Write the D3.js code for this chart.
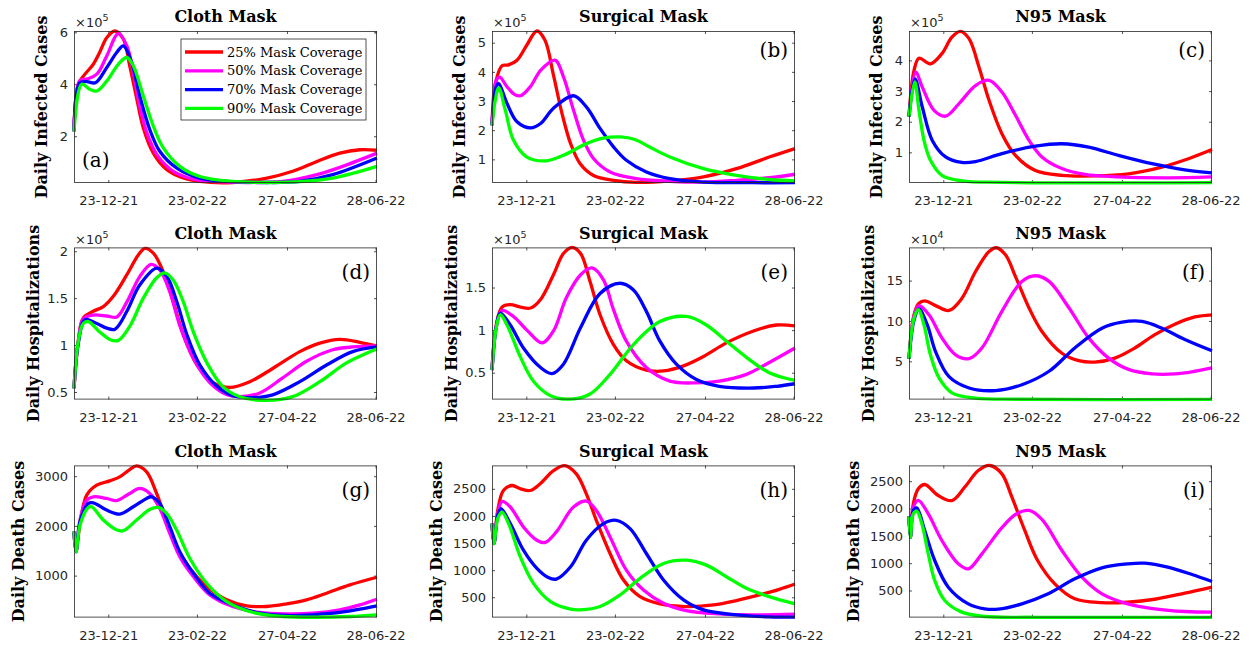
<!DOCTYPE html>
<html><head><meta charset="utf-8">
<script src="https://cdn.jsdelivr.net/npm/d3@7"></script>
<style>body{margin:0;background:#fff} svg{display:block}</style>
</head><body>
<svg id="chart" width="1256" height="647"></svg>
<script>
// ---------------- DATA ----------------
// x: days since 29-11-2021 ; values in plotted units (see exponent per panel)
const startDateUTC = Date.UTC(2021, 10, 29);
const endDay = 212;
const xTickDates = ["2021-12-23", "2022-02-23", "2022-04-27", "2022-06-28"];
const seriesLabels = ["25% Mask Coverage", "50% Mask Coverage", "70% Mask Coverage", "90% Mask Coverage"];
const seriesColors = ["#ff0000", "#ff00ff", "#0000ff", "#00ff00"];
const maskTitles = ["Cloth Mask", "Surgical Mask", "N95 Mask"];
const measureLabels = ["Daily Infected Cases", "Daily Hospitalizations", "Daily Death Cases"];
const panelLetters = ["(a)", "(b)", "(c)", "(d)", "(e)", "(f)", "(g)", "(h)", "(i)"];

// (a) infected, cloth (x1e5)
const infCloth25 = [[0,2.19],[3,4.0],[7.7,4.39],[13.5,4.77],[18,5.23],[23,5.8],[28.7,6.05],[34.5,5.74],[39,4.71],[44,3.42],[48.5,2.32],[55.5,1.35],[65,0.71],[76.5,0.39],[88,0.26],[111,0.22],[135,0.39],[153,0.65],[170,1.03],[186,1.35],[200,1.48],[212,1.46]];
const infCloth50 = [[0,2.19],[4,4.13],[9,4.2],[16,4.39],[23,5.1],[31,5.95],[37,5.48],[41.5,4.45],[46,3.16],[51,2.13],[58,1.29],[69.5,0.65],[83.5,0.35],[100,0.25],[123,0.22],[146,0.26],[170,0.52],[188,0.84],[212,1.35]];
const infCloth70 = [[0,2.19],[4,4.05],[9,4.1],[15,4.06],[23,4.65],[30,5.23],[34.5,5.48],[40,4.9],[46,3.55],[53,2.26],[60,1.42],[72,0.77],[88,0.39],[111,0.25],[135,0.22],[158,0.26],[181,0.52],[212,1.16]];
const infCloth90 = [[0,2.19],[5.4,4.0],[11,3.81],[16,3.74],[23,4.13],[31,4.77],[37,5.03],[41.5,4.71],[48.5,3.55],[55.5,2.39],[62.5,1.55],[74,0.84],[88,0.45],[111,0.26],[135,0.22],[158,0.25],[181,0.39],[212,0.84]];
// (b) infected, surgical (x1e5)
const infSurg25 = [[0,2.17],[3,3.72],[7,4.21],[11.6,4.24],[17.5,4.4],[24.4,4.92],[31.4,5.4],[37,5.09],[43,3.89],[49,2.57],[55,1.54],[61.7,0.85],[71,0.45],[85,0.28],[101,0.21],[124.5,0.26],[148,0.4],[171,0.68],[194,1.08],[212,1.37]];
const infSurg50 = [[0,2.17],[3,3.72],[5.4,3.82],[10.5,3.49],[16,3.22],[20,3.18],[27,3.5],[34,4.05],[44,4.4],[50,3.83],[57,2.69],[64,1.66],[71,1.03],[82.6,0.57],[101,0.34],[124.5,0.25],[148,0.22],[171,0.28],[194,0.37],[212,0.49]];
const infSurg70 = [[0,2.17],[3,3.49],[4.7,3.6],[10.5,2.92],[17.5,2.29],[27,2.08],[34,2.23],[43,2.75],[57,3.18],[66,2.8],[75.6,2.06],[85,1.43],[94,0.97],[108,0.57],[124.5,0.34],[148,0.22],[183,0.2],[212,0.2]];
const infSurg90 = [[0,2.17],[2.3,3.03],[4.7,3.45],[9.3,2.69],[15,1.66],[24.4,1.08],[38,0.95],[50,1.14],[66,1.54],[78,1.73],[90,1.77],[100,1.68],[110,1.43],[124.5,1.08],[148,0.68],[171,0.45],[194,0.31],[212,0.26]];
// (c) infected, N95 (x1e5)
const infN95_25 = [[0,2.17],[3.5,3.67],[7,4.07],[15,3.89],[23,4.22],[30,4.76],[36,4.95],[42,4.71],[49,3.78],[56,2.7],[65,1.61],[74.5,0.9],[88.4,0.41],[107,0.25],[130,0.23],[153.6,0.3],[177,0.52],[195.5,0.79],[212,1.09]];
const infN95_50 = [[0,2.17],[4.7,3.62],[9.3,3.13],[17.5,2.37],[25.6,2.18],[35,2.59],[46.5,3.18],[56,3.35],[65,2.97],[74.5,2.21],[84,1.39],[93,0.85],[107,0.47],[123,0.28],[146.6,0.2],[181.5,0.17],[212,0.2]];
const infN95_70 = [[0,2.17],[4.2,3.4],[9.3,2.48],[16.3,1.39],[25.6,0.85],[37,0.67],[46.5,0.7],[65,0.96],[88.4,1.2],[107,1.28],[125.7,1.17],[146.6,0.9],[170,0.63],[193,0.43],[212,0.33]];
const infN95_90 = [[0,2.17],[4,3.3],[7,2.37],[10.5,1.39],[15,0.74],[23,0.25],[37,0.07],[65,0.02],[212,0.01]];
// (d) hospitalizations, cloth (x1e5)
const hospCloth25 = [[0,0.54],[3,1.04],[6.5,1.29],[13.5,1.36],[20.5,1.41],[27.5,1.52],[37,1.75],[45,1.96],[49.7,2.03],[55.5,1.98],[62.5,1.78],[69.5,1.46],[76.5,1.11],[86,0.79],[97.4,0.6],[109,0.55],[123,0.61],[139,0.75],[158,0.93],[172,1.02],[186,1.06],[200,1.03],[212,0.99]];
const hospCloth50 = [[0,0.54],[3,1.04],[6.5,1.28],[13.5,1.32],[23,1.31],[30,1.3],[37,1.46],[46,1.73],[54,1.86],[60,1.8],[67,1.57],[74,1.21],[83.5,0.86],[95,0.6],[107,0.47],[116,0.45],[130,0.49],[146,0.65],[163,0.83],[181,0.95],[195,0.98],[212,0.99]];
const hospCloth70 = [[0,0.54],[3,1.02],[7.7,1.27],[16,1.23],[23,1.18],[28.7,1.17],[37,1.36],[46,1.64],[58,1.82],[65,1.73],[72,1.46],[79,1.11],[88,0.79],[100,0.56],[111,0.46],[125,0.44],[139,0.47],[158,0.61],[177,0.79],[195,0.93],[212,0.98]];
const hospCloth90 = [[0,0.54],[3,1.04],[6.5,1.23],[10,1.25],[18,1.14],[25,1.06],[31,1.05],[39,1.2],[48.5,1.5],[58,1.72],[63.6,1.77],[69.5,1.69],[76.5,1.46],[83.5,1.14],[93,0.81],[104,0.56],[116,0.45],[135,0.41],[153,0.45],[172,0.61],[190.7,0.81],[212,0.96]];
// (e) hospitalizations, surgical (x1e5)
const hospSurg25 = [[0,0.53],[3,1.06],[7,1.27],[12.8,1.3],[20,1.27],[27,1.26],[34,1.36],[43,1.65],[50,1.9],[56,1.97],[62,1.9],[68.6,1.57],[75.6,1.18],[85,0.83],[94,0.64],[108,0.53],[120,0.52],[134,0.58],[148,0.69],[164,0.85],[183,0.99],[199,1.06],[212,1.05]];
const hospSurg50 = [[0,0.53],[3,1.04],[7,1.23],[15,1.16],[24.4,1.0],[35,0.85],[43,0.99],[52,1.38],[62,1.65],[70,1.73],[78,1.59],[85,1.24],[94,0.87],[108,0.56],[124.5,0.4],[143,0.38],[159,0.4],[178,0.48],[194,0.62],[212,0.79]];
const hospSurg70 = [[0,0.53],[3,1.04],[5.8,1.2],[12.8,1.06],[22,0.79],[34,0.56],[42,0.49],[50,0.6],[62,1.03],[75.6,1.43],[89.6,1.55],[99,1.47],[108,1.22],[117.5,0.87],[129,0.6],[143,0.42],[159,0.34],[183,0.32],[199,0.34],[212,0.37]];
const hospSurg90 = [[0,0.53],[3,1.03],[5.8,1.18],[10.5,1.06],[20,0.68],[29,0.4],[41,0.23],[55,0.19],[68.6,0.25],[82.6,0.48],[99,0.83],[117.5,1.1],[136,1.16],[150,1.06],[164,0.87],[178,0.68],[194,0.5],[212,0.41]];
// (f) hospitalizations, N95 (x1e4)
const hospN95_25 = [[0,5.33],[3.5,10.76],[7,12.2],[11,12.5],[18.6,11.9],[28,11.3],[37,12.8],[46.5,16.1],[56,18.6],[61,19.07],[67.5,18.2],[74.5,15.5],[84,11.6],[93,8.7],[107,6.0],[118.7,5.08],[130,4.9],[144,5.4],[158,6.65],[172,8.3],[186,9.6],[200,10.5],[212,10.76]];
const hospN95_50 = [[0,5.33],[3.5,10.6],[7,11.9],[14,10.76],[23,7.9],[32.6,5.8],[42,5.33],[51,6.65],[65,11.2],[79,14.9],[88.4,15.6],[98,14.9],[112,11.6],[125.7,7.9],[139.6,5.4],[153.6,4.0],[170,3.44],[186,3.44],[200,3.77],[212,4.18]];
const hospN95_70 = [[0,5.33],[3.5,10.1],[7,11.5],[12.8,9.5],[18.6,6.2],[28,3.1],[42,1.7],[60.5,1.38],[79,2.1],[98,3.77],[116,6.65],[135,9.1],[149,9.85],[163,9.94],[177,9.1],[193,7.7],[212,6.3]];
const hospN95_90 = [[0,5.33],[3.5,10.35],[6.5,11.4],[10.5,9.5],[15,5.8],[21,2.94],[30,1.1],[46.5,0.45],[77,0.3],[212,0.28]];
// (g) deaths, cloth
const deathCloth25 = [[0,1883],[1.4,1482],[4.2,2050],[8.9,2619],[15.9,2819],[25,2906],[32,2987],[39,3134],[43.8,3207],[50.8,3087],[57.8,2652],[64.8,2084],[71.8,1582],[81,1147],[92.8,779],[106.8,512],[120.7,391],[134.7,378],[148.7,431],[162.7,512],[176.7,645],[193,813],[212,967]];
const deathCloth50 = [[0,1883],[1.4,1482],[4.2,2117],[8.9,2518],[13.5,2585],[22.8,2552],[29.8,2510],[39,2652],[46,2753],[53,2652],[60,2351],[67,1850],[74,1381],[83.5,980],[95,612],[111,378],[130,258],[148.7,231],[167,244],[186,311],[200,411],[212,525]];
const deathCloth70 = [[0,1883],[1.4,1482],[4.2,2084],[10,2452],[13.5,2465],[22.8,2318],[32,2237],[41.5,2385],[50.8,2552],[54.3,2585],[60,2452],[67,1983],[74,1482],[83.5,1047],[95,645],[111,411],[130,244],[148.7,197],[167,211],[186,258],[200,324],[212,391]];
const deathCloth90 = [[0,1883],[1.4,1482],[4.2,2017],[10,2371],[12.4,2385],[20.5,2117],[30,1916],[34.5,1903],[43.8,2117],[53,2331],[59,2371],[64.8,2251],[71.8,1916],[81,1348],[92.8,846],[106.8,478],[125.4,258],[146,177],[170,162],[193,177],[212,211]];
// (h) deaths, surgical
const deathSurg25 = [[0,1858],[1.4,1491],[4,2102],[8,2469],[14,2561],[20,2500],[26.8,2469],[33.7,2592],[43,2836],[51,2928],[59,2775],[66,2408],[73,1919],[82.6,1307],[92,818],[103.6,512],[117.5,378],[136,329],[155,359],[171,439],[187,543],[201,647],[212,745]];
const deathSurg50 = [[0,1858],[1.4,1491],[4,2041],[7,2265],[12.8,2164],[22,1797],[31.4,1552],[37,1509],[45,1705],[57,2164],[66,2274],[73,2102],[82.6,1613],[94,1001],[106,634],[120,390],[136,255],[159,194],[183,176],[212,188]];
const deathSurg70 = [[0,1858],[1.4,1491],[4,2011],[6.3,2133],[12.8,1858],[22,1368],[31.4,1032],[39,870],[45,836],[55,1063],[66,1552],[78,1858],[87,1919],[96.6,1766],[108,1307],[120,818],[134,451],[148,267],[171,176],[194,139],[212,133]];
const deathSurg90 = [[0,1858],[1.4,1491],[4,1950],[7,2072],[11.6,1858],[19.8,1246],[29,757],[41,420],[55,280],[62,267],[75.6,329],[89.6,543],[103.6,849],[120,1124],[136,1185],[150,1093],[164,879],[178,665],[194,512],[212,378]];
// (i) deaths, N95
const deathN95_25 = [[0,1854],[1,1476],[3,2085],[6.5,2360],[11,2439],[20.5,2238],[30,2146],[39,2390],[48.5,2695],[56.6,2787],[65,2634],[72,2207],[81,1598],[90,1049],[102,622],[116,348],[135,278],[153,285],[172,340],[193,451],[212,561]];
const deathN95_50 = [[0,1854],[1,1476],[3,2024],[6.5,2150],[13.5,1902],[23,1415],[34.5,988],[41.5,896],[51,1171],[65,1650],[75,1900],[84,1965],[93,1800],[107,1232],[121,744],[135,439],[153,256],[172,165],[193,116],[212,104]];
const deathN95_70 = [[0,1854],[1,1476],[3,1963],[5.4,2012],[11,1598],[18,1049],[27.5,561],[41.5,256],[53,165],[62.5,160],[79,256],[97.4,439],[116,713],[135,915],[153,988],[165,1000],[181,927],[198,793],[212,665]];
const deathN95_90 = [[0,1854],[1,1476],[3,1902],[5.4,1951],[9,1720],[13.5,1171],[18,683],[25,317],[37,104],[53,24],[88,10],[212,8]];

// y-axis ranges, ticks and exponents per panel (a..i)
const yRanges = [[0.2,6.05],[0.19,5.4],[0,4.96],[0.42,2.04],[0.185,1.97],[0.27,19.1],[157,3215],[127,2930],[6,2787]];
const yTickValues = [[2,4,6],[1,2,3,4,5],[1,2,3,4],[0.5,1,1.5,2],[0.5,1,1.5],[5,10,15],[1000,2000,3000],[500,1000,1500,2000,2500],[500,1000,1500,2000,2500]];
const yExponents = [5,5,5,5,5,4,null,null,null];

const panelSeries = [
  [infCloth25, infCloth50, infCloth70, infCloth90],
  [infSurg25, infSurg50, infSurg70, infSurg90],
  [infN95_25, infN95_50, infN95_70, infN95_90],
  [hospCloth25, hospCloth50, hospCloth70, hospCloth90],
  [hospSurg25, hospSurg50, hospSurg70, hospSurg90],
  [hospN95_25, hospN95_50, hospN95_70, hospN95_90],
  [deathCloth25, deathCloth50, deathCloth70, deathCloth90],
  [deathSurg25, deathSurg50, deathSurg70, deathSurg90],
  [deathN95_25, deathN95_50, deathN95_70, deathN95_90]
];

// ---------------- LAYOUT ----------------
const colLeft = [74, 492, 909];
const panelW = 303;
const rowTop = [31, 247.5, 465.5];
const panelH = 152;
const yLabelOffset = [27, 35, 50.5];
const letterBaseline = [26, 31, 31];
const axisColor = "#262626";

const svg = d3.select("#chart");
const toDate = d => new Date(startDateUTC + d * 864e5);
const tickDates = xTickDates.map(s => new Date(s + "T00:00:00Z"));
const fmt = d3.utcFormat("%d-%m-%y");

panelSeries.forEach((series, i) => {
  const col = i % 3, row = Math.floor(i / 3);
  const L = colLeft[col], T = rowTop[row];
  const g = svg.append("g").attr("transform", `translate(${L},${T})`);
  const x = d3.scaleUtc().domain([toDate(0), toDate(endDay)]).range([0, panelW]);
  const y = d3.scaleLinear().domain(yRanges[i]).range([panelH, 0]);

  g.append("rect").attr("width", panelW).attr("height", panelH).attr("fill", "#fff");

  const styleAxis = sel => {
    sel.select(".domain").remove();
    sel.selectAll("line").attr("stroke", axisColor).attr("stroke-width", 0.8);
    sel.selectAll("text").attr("fill", axisColor).style("font-family", "'DejaVu Sans', sans-serif").style("font-size", "13px");
  };
  g.append("g").attr("transform", `translate(0,${panelH})`)
    .call(d3.axisBottom(x).tickValues(tickDates).tickFormat(fmt).tickSizeInner(-3).tickSizeOuter(0).tickPadding(13))
    .call(styleAxis);
  g.append("g")
    .call(d3.axisTop(x).tickValues(tickDates).tickFormat("").tickSizeInner(-3).tickSizeOuter(0))
    .call(styleAxis);
  g.append("g")
    .call(d3.axisLeft(y).tickValues(yTickValues[i]).tickFormat(d => String(d)).tickSizeInner(-3).tickSizeOuter(0).tickPadding(6))
    .call(styleAxis);
  g.append("g").attr("transform", `translate(${panelW},0)`)
    .call(d3.axisRight(y).tickValues(yTickValues[i]).tickFormat("").tickSizeInner(-3).tickSizeOuter(0))
    .call(styleAxis);

  const line = d3.line().x(d => x(toDate(d[0]))).y(d => y(d[1])).curve(d3.curveCatmullRom.alpha(0.5));
  series.forEach((s, k) => {
    g.append("path").datum(s).attr("d", line)
      .attr("fill", "none").attr("stroke", seriesColors[k]).attr("stroke-width", 3.3)
      .attr("stroke-linejoin", "round");
  });

  g.append("rect").attr("x", 0.4).attr("y", 0.4).attr("width", panelW - 0.8).attr("height", panelH - 0.8)
    .attr("fill", "none").attr("stroke", axisColor).attr("stroke-width", 0.8);

  // title
  svg.append("text").attr("x", L + panelW / 2).attr("y", T - 9).attr("text-anchor", "middle")
    .style("font-family", "'DejaVu Serif', serif").style("font-weight", "bold").style("font-size", "16px")
    .attr("fill", "#000").text(maskTitles[col]);
  // y label
  svg.append("text").attr("transform", `translate(${L - yLabelOffset[row]},${T + panelH / 2}) rotate(-90)`)
    .attr("text-anchor", "middle")
    .style("font-family", "'DejaVu Serif', serif").style("font-weight", "bold").style("font-size", "16px")
    .attr("fill", "#000").text(measureLabels[row]);
  // exponent
  if (yExponents[i] !== null) {
    const t = svg.append("text").attr("x", L + 1).attr("y", T - 4).attr("fill", axisColor)
      .style("font-family", "'DejaVu Sans', sans-serif").style("font-size", "13px");
    t.append("tspan").text("×10");
    t.append("tspan").attr("dy", -6).style("font-size", "9.5px").text(String(yExponents[i]));
  }
  // panel letter
  const lt = svg.append("text").style("font-family", "'DejaVu Serif', serif").style("font-size", "20px").attr("fill", "#000");
  if (i === 0) {
    lt.attr("x", L + 8).attr("y", T + panelH - 16).attr("text-anchor", "start");
  } else {
    lt.attr("x", L + panelW - 7).attr("y", T + letterBaseline[row]).attr("text-anchor", "end");
  }
  lt.text(panelLetters[i]);

  // legend in panel (a)
  if (i === 0) {
    const lg = g.append("g").attr("transform", "translate(107,8)");
    lg.append("rect").attr("width", 185).attr("height", 81).attr("fill", "#fff")
      .attr("stroke", axisColor).attr("stroke-width", 0.8);
    seriesLabels.forEach((lab, k) => {
      const yy = 13 + k * 18.8;
      lg.append("line").attr("x1", 4).attr("x2", 42).attr("y1", yy).attr("y2", yy)
        .attr("stroke", seriesColors[k]).attr("stroke-width", 3.3);
      lg.append("text").attr("x", 46).attr("y", yy + 4.5)
        .style("font-family", "'DejaVu Serif', serif").style("font-size", "13px").attr("fill", "#000").text(lab);
    });
  }
});
</script>
</body></html>
